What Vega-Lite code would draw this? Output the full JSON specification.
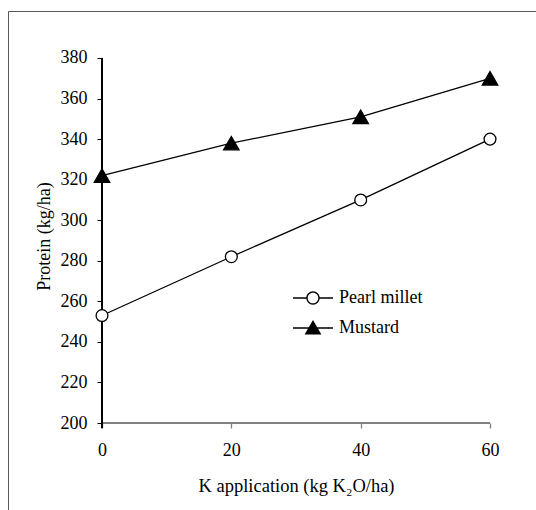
{
  "$schema": "https://vega.github.io/schema/vega-lite/v6.json",
  "width": 528,
  "height": 499,
  "autosize": "none",
  "padding": {"left": 8, "top": 11, "right": 0, "bottom": 0},
  "background": "white",
  "config": {
    "view": {"stroke": "#595959", "strokeWidth": 1},
    "font": "Liberation Serif"
  },
  "data": {
    "values": [
      {"k": 0, "protein": 253, "crop": "Pearl millet"},
      {"k": 20, "protein": 282, "crop": "Pearl millet"},
      {"k": 40, "protein": 310, "crop": "Pearl millet"},
      {"k": 60, "protein": 340, "crop": "Pearl millet"},
      {"k": 0, "protein": 322, "crop": "Mustard"},
      {"k": 20, "protein": 338, "crop": "Mustard"},
      {"k": 40, "protein": 351, "crop": "Mustard"},
      {"k": 60, "protein": 370, "crop": "Mustard"}
    ]
  },
  "resolve": {"scale": {"shape": "independent"}},
  "layer": [
    {
      "mark": {"type": "line", "color": "black", "strokeWidth": 1.3},
      "encoding": {
        "x": {
          "field": "k", "type": "quantitative",
          "scale": {"domain": [-14.536, 67.113], "nice": false, "zero": false},
          "axis": {
            "orient": "bottom", "offset": -87, "values": [0, 20, 40, 60],
            "domain": false, "grid": false,
            "tickColor": "#808080", "tickSize": 5, "tickWidth": 1.3,
            "labelFont": "Liberation Serif", "labelFontSize": 18, "labelColor": "black", "labelPadding": 13,
            "title": "K application (kg K₂O/ha)",
            "titleFont": "Liberation Serif", "titleFontSize": 18.5, "titleFontWeight": "normal", "titleColor": "black",
            "titleX": 288, "titleY": 62, "titleBaseline": "middle", "titleAlign": "center"
          }
        },
        "y": {
          "field": "protein", "type": "quantitative",
          "scale": {"domain": [157.096, 403.178], "nice": false, "zero": false},
          "axis": {
            "orient": "left", "offset": -94, "values": [200, 220, 240, 260, 280, 300, 320, 340, 360, 380],
            "domain": false, "grid": false,
            "tickColor": "black", "tickSize": 5, "tickWidth": 1,
            "labelFont": "Liberation Serif", "labelFontSize": 18, "labelColor": "black", "labelPadding": 10,
            "title": "Protein (kg/ha)",
            "titleFont": "Liberation Serif", "titleFontSize": 18, "titleFontWeight": "normal", "titleColor": "black",
            "titleX": -58, "titleY": 225, "titleAngle": -90, "titleBaseline": "middle", "titleAlign": "center"
          }
        },
        "detail": {"field": "crop"}
      }
    },
    {
      "mark": {"type": "rule", "color": "#7f7f7f", "strokeWidth": 1.3},
      "encoding": {
        "x": {"datum": 0, "type": "quantitative"},
        "x2": {"datum": 60},
        "y": {"datum": 200, "type": "quantitative"}
      }
    },
    {
      "mark": {"type": "rule", "color": "black", "strokeWidth": 1},
      "encoding": {
        "x": {"datum": 0, "type": "quantitative"},
        "y": {"datum": 380, "type": "quantitative"},
        "y2": {"datum": 197.5}
      }
    },
    {
      "mark": {"type": "point", "filled": true, "stroke": "black", "strokeWidth": 1.3, "opacity": 1},
      "encoding": {
        "x": {"field": "k", "type": "quantitative"},
        "y": {"field": "protein", "type": "quantitative"},
        "shape": {
          "field": "crop", "type": "nominal",
          "scale": {"domain": ["Pearl millet", "Mustard"], "range": ["circle", "triangle-up"]},
          "legend": null
        },
        "fill": {
          "condition": {"test": "datum.crop === 'Mustard'", "value": "black"},
          "value": "white"
        },
        "size": {
          "condition": {"test": "datum.crop === 'Mustard'", "value": 240},
          "value": 140
        }
      }
    },
    {
      "mark": {"type": "point", "filled": true, "color": "black", "opacity": 0},
      "encoding": {
        "x": {"field": "k", "type": "quantitative"},
        "y": {"field": "protein", "type": "quantitative"},
        "shape": {
          "field": "crop", "type": "nominal",
          "scale": {
            "domain": ["Pearl millet", "Mustard"],
            "range": [
              "M -1 -0.035 L -0.33 -0.035 L -0.33 0.035 L -1 0.035 Z M 0.33 -0.035 L 1 -0.035 L 1 0.035 L 0.33 0.035 Z M 0.335 0 A 0.335 0.335 0 1 1 -0.335 0 A 0.335 0.335 0 1 1 0.335 0 Z M 0.265 0 A 0.265 0.265 0 1 0 -0.265 0 A 0.265 0.265 0 1 0 0.265 0 Z",
              "M -1 -0.035 L 1 -0.035 L 1 0.035 L -1 0.035 Z M 0 -0.4 L 0.42 0.33 L -0.42 0.33 Z"
            ]
          },
          "legend": {
            "title": null, "orient": "none", "legendX": 285, "legendY": 267,
            "padding": 0, "rowPadding": 1, "labelOffset": 6,
            "labelFont": "Liberation Serif", "labelFontSize": 18, "labelColor": "black",
            "symbolSize": 1600, "symbolOpacity": 1,
            "symbolFillColor": "black", "symbolStrokeWidth": 0, "symbolStrokeColor": "transparent"
          }
        }
      }
    }
  ]
}
